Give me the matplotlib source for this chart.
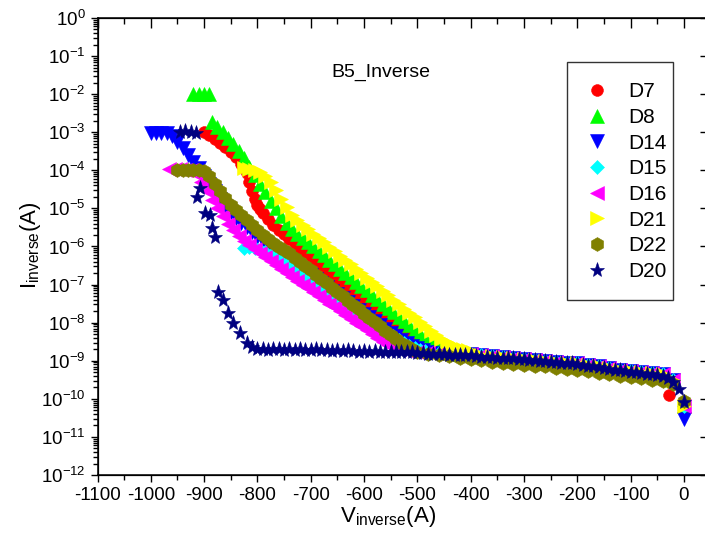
import numpy as np
import matplotlib
matplotlib.use("Agg")
import matplotlib.pyplot as plt
from matplotlib.patches import Rectangle
from matplotlib.ticker import LogLocator, MultipleLocator, NullFormatter, NullLocator

plt.rcParams['font.family'] = ['Liberation Sans', 'DejaVu Sans']
plt.rcParams['mathtext.fontset'] = 'custom'
plt.rcParams['mathtext.rm'] = 'Liberation Sans'
plt.rcParams['mathtext.it'] = 'Liberation Sans:italic'
plt.rcParams['mathtext.bf'] = 'Liberation Sans:bold'
plt.rcParams['axes.unicode_minus'] = False

# ---- data (V in volts, log10 of I) ----

# D7 red circles
v_d7 = np.arange(-900, -465, 10)
lg_d7 = [-3.00, -3.08, -3.17, -3.27, -3.40, -3.52, -3.66, -3.83, -4.08, -4.55,
         -4.90, -5.12, -5.28, -5.43, -5.56, -5.68, -5.80, -5.92, -6.04, -6.15,
         -6.26, -6.38, -6.49, -6.60, -6.72, -6.83, -6.94, -7.05, -7.16, -7.28,
         -7.39, -7.50, -7.61, -7.72, -7.84, -7.95, -8.06, -8.17, -8.28, -8.40,
         -8.50, -8.60, -8.68, -8.75]
v_d7_knee = [-825, -815, -805, -795]
lg_d7_knee = [-3.95, -4.30, -4.75, -5.02]
d7_dip = (-28, -9.9)

# D8 green triangles (flat part at 1e-2, then the decay)
v_d8_top = [-920, -910, -900, -890]
lg_d8_top = [-2.0, -2.0, -2.0, -2.0]
v_d8 = np.arange(-885, -430, 10)
lg_d8 = [-2.72, -2.85, -3.00, -3.14, -3.30, -3.48, -3.67, -3.90, -4.12, -4.35,
         -4.58, -4.80, -5.00, -5.20, -5.38, -5.54, -5.66, -5.77, -5.89, -6.00,
         -6.12, -6.23, -6.35, -6.46, -6.58, -6.69, -6.81, -6.92, -7.04, -7.15,
         -7.27, -7.38, -7.50, -7.61, -7.73, -7.84, -7.96, -8.07, -8.18, -8.29,
         -8.39, -8.48, -8.56, -8.63, -8.68, -8.72]

# D14 blue down triangles
v_d14 = np.arange(-1000, -485, 10)
lg_d14 = [-3.02, -3.02, -3.02, -3.03, -3.10, -3.25, -3.42, -3.60, -3.78, -3.95,
          -4.15, -4.35, -4.55, -4.75, -4.93, -5.10, -5.25, -5.38, -5.50, -5.62,
          -5.74, -5.85, -5.96, -6.06, -6.16, -6.26, -6.36, -6.46, -6.56, -6.66,
          -6.76, -6.86, -6.96, -7.06, -7.16, -7.26, -7.36, -7.46, -7.56, -7.66,
          -7.76, -7.86, -7.96, -8.06, -8.16, -8.26, -8.36, -8.45, -8.54, -8.61,
          -8.67, -8.72]
d14_end = -10.54

# D15 cyan diamonds
v_d15 = np.arange(-825, -480, 10)
lg_d15 = [-6.05, -6.02, -6.03, -6.08, -6.15, -6.22, -6.30, -6.38, -6.46, -6.55,
          -6.64, -6.74, -6.83, -6.93, -7.02, -7.12, -7.21, -7.31, -7.40, -7.50,
          -7.59, -7.69, -7.78, -7.88, -7.97, -8.07, -8.16, -8.26, -8.35, -8.45,
          -8.53, -8.60, -8.66, -8.71, -8.74]

# D16 magenta left triangles
v_d16 = np.arange(-965, -530, 10)
lg_d16 = [-3.97, -3.97, -3.97, -3.98, -4.00, -4.10, -4.30, -4.55, -4.78, -5.00,
          -5.20, -5.40, -5.57, -5.72, -5.85, -5.96, -6.07, -6.17, -6.28, -6.38,
          -6.49, -6.59, -6.70, -6.80, -6.90, -7.00, -7.10, -7.20, -7.30, -7.40,
          -7.50, -7.60, -7.70, -7.80, -7.90, -8.00, -8.10, -8.20, -8.30, -8.40,
          -8.50, -8.58, -8.65, -8.70]

# D21 yellow right triangles
v_d21 = np.arange(-825, -390, 10)
lg_d21 = [-3.95, -3.97, -4.00, -4.05, -4.15, -4.30, -4.52, -4.75, -4.97, -5.17,
          -5.31, -5.43, -5.54, -5.66, -5.78, -5.89, -6.01, -6.12, -6.24, -6.36,
          -6.47, -6.59, -6.70, -6.82, -6.94, -7.05, -7.17, -7.28, -7.40, -7.52,
          -7.63, -7.75, -7.86, -7.98, -8.10, -8.21, -8.32, -8.42, -8.51, -8.58,
          -8.64, -8.69, -8.73, -8.77]

# D22 olive hexagons
v_d22 = np.arange(-950, -495, 10)
lg_d22 = [-3.99, -3.99, -3.99, -4.00, -4.00, -4.02, -4.15, -4.35, -4.55, -4.73,
          -4.90, -5.04, -5.18, -5.31, -5.44, -5.57, -5.69, -5.80, -5.91, -6.01,
          -6.10, -6.18, -6.29, -6.40, -6.52, -6.63, -6.74, -6.86, -6.97, -7.08,
          -7.19, -7.31, -7.42, -7.53, -7.64, -7.76, -7.87, -7.98, -8.10, -8.21,
          -8.32, -8.43, -8.53, -8.62, -8.70, -8.76]

# D20 navy stars: scattered head, then the long flat floor
v_d20_head = [-945, -935, -925, -915, -914, -908, -899, -889, -886, -880,
              -874, -865, -856, -846, -833, -820, -810]
lg_d20_head = [-3.00, -2.97, -3.00, -3.02, -4.70, -4.46, -5.12, -5.17, -5.51, -5.75,
               -7.20, -7.41, -7.75, -8.01, -8.27, -8.53, -8.65]
v_d20 = np.arange(-800, 1, 10)
lg_d20 = [-8.70, -8.68, -8.72, -8.70, -8.68, -8.72, -8.70, -8.72, -8.70, -8.72,
          -8.72, -8.70, -8.73, -8.72, -8.74, -8.72, -8.74, -8.73, -8.74, -8.76,
          -8.74, -8.76, -8.74, -8.77, -8.76, -8.77, -8.76, -8.77, -8.78, -8.77,
          -8.80, -8.80, -8.81, -8.81, -8.82, -8.82, -8.84, -8.84, -8.85, -8.85,
          -8.85, -8.87, -8.89, -8.89, -8.90, -8.92, -8.92, -8.94, -8.94, -8.96,
          -8.96, -8.98, -8.98, -9.00, -9.01, -9.02, -9.03, -9.05, -9.06, -9.07,
          -9.09, -9.11, -9.13, -9.15, -9.17, -9.19, -9.21, -9.23, -9.25, -9.27,
          -9.29, -9.30, -9.32, -9.34, -9.35, -9.37, -9.40, -9.46, -9.55, -9.75,
          -10.08]

# floor readings of the other devices (coarser, mostly hidden under D20)
v_tail = np.arange(-520, 1, 20)
lg_tail_hi = [-8.74, -8.76, -8.78, -8.79, -8.81, -8.82, -8.83, -8.85, -8.88, -8.90,
              -8.93, -8.95, -8.97, -9.00, -9.03, -9.05, -9.07, -9.11, -9.15, -9.19,
              -9.23, -9.26, -9.30, -9.33, -9.36, -9.50, -10.20]
lg_tail_lo = [-8.78, -8.80, -8.82, -8.85, -8.88, -8.92, -8.95, -8.98, -9.02, -9.05,
              -9.08, -9.10, -9.13, -9.15, -9.18, -9.21, -9.24, -9.28, -9.32, -9.36,
              -9.40, -9.43, -9.46, -9.50, -9.52, -9.62, -10.05]


def with_tail(v, lg, tail):
    keep = v_tail > v[-1] + 5
    return (np.concatenate([v, v_tail[keep]]),
            np.concatenate([lg, np.array(tail)[keep]]))


x7, y7 = with_tail(v_d7, lg_d7, lg_tail_hi)
x7 = np.concatenate([v_d7_knee, x7, [d7_dip[0]]])
y7 = np.concatenate([lg_d7_knee, y7, [d7_dip[1]]])
x8, y8 = with_tail(v_d8, lg_d8, lg_tail_hi)
x8 = np.concatenate([v_d8_top, x8]); y8 = np.concatenate([lg_d8_top, y8])
x14, y14 = with_tail(v_d14, lg_d14, lg_tail_hi)
y14[-1] = d14_end
x15, y15 = with_tail(v_d15, lg_d15, lg_tail_hi)
x16, y16 = with_tail(v_d16, lg_d16, lg_tail_hi)
x21, y21 = with_tail(v_d21, lg_d21, lg_tail_hi)
x22, y22 = with_tail(v_d22, lg_d22, lg_tail_lo)
x20 = np.concatenate([v_d20_head, v_d20])
y20 = np.concatenate([lg_d20_head, lg_d20])

series = [
    ("D7", x7, y7, 'o', '#FF0000', 8.5),
    ("D8", x8, y8, '^', '#00FF00', 9.5),
    ("D14", x14, y14, 'v', '#0000FF', 9.5),
    ("D15", x15, y15, 'D', '#00FFFF', 7.5),
    ("D16", x16, y16, '<', '#FF00FF', 9.5),
    ("D21", x21, y21, '>', '#FFFF00', 9.5),
    ("D22", x22, y22, 'h', '#808000', 10),
    ("D20", x20, y20, '*', '#000080', 11),
]

fig = plt.figure(figsize=(7.05, 5.48), dpi=100)
ax = fig.add_axes([97.5 / 705, 1 - 475 / 548, (705.3 - 97.5) / 705, 457 / 548])

for name, x, lg, mk, col, ms in series:
    ax.plot(x, 10.0 ** np.asarray(lg), linestyle='none', marker=mk, color=col,
            markersize=ms, markeredgewidth=0.4, markeredgecolor=col, label=name)

ax.set_yscale('log')
ax.set_xlim(-1100, 40)
ax.set_ylim(1e-12, 1)
ax.xaxis.set_major_locator(MultipleLocator(100))
ax.xaxis.set_minor_locator(MultipleLocator(50))
ax.yaxis.set_major_locator(LogLocator(base=10, numticks=30))
ax.yaxis.set_minor_locator(LogLocator(base=10, subs=np.arange(2, 10), numticks=30))
ax.yaxis.set_minor_formatter(NullFormatter())
ax.tick_params(axis='both', which='major', direction='out', length=5, width=1,
               labelsize=13.5, top=False, right=False)
ax.tick_params(axis='both', which='minor', direction='out', length=3.5, width=1,
               top=False, right=False)
ax.spines['right'].set_visible(False)
for s in ['left', 'bottom', 'top']:
    ax.spines[s].set_linewidth(1.1)

# mirrored ticks pointing inward on top and right
axt = ax.twiny()
axt.set_xlim(ax.get_xlim())
axt.xaxis.set_major_locator(MultipleLocator(100))
axt.xaxis.set_minor_locator(MultipleLocator(50))
axt.tick_params(axis='x', which='major', direction='in', length=7, width=1, labeltop=False)
axt.tick_params(axis='x', which='minor', direction='in', length=4, width=1)
axr = ax.twinx()
axr.set_yscale('log')
axr.set_ylim(ax.get_ylim())
axr.yaxis.set_major_locator(LogLocator(base=10, numticks=30))
axr.yaxis.set_minor_locator(NullLocator())
axr.tick_params(axis='y', which='major', direction='in', length=3.5, width=1, labelright=False)
for a in (axt, axr):
    a.spines['right'].set_visible(False)

ax.text(0.467, 0.882, 'B5_Inverse', transform=ax.transAxes, ha='center', va='center',
        fontsize=14)

fig.text(0.043, 0.552, r'I$_{\mathregular{inverse}}$(A)', rotation=90, ha='center',
         va='center', fontsize=16)
fig.text(0.551, 0.057, r'V$_{\mathregular{inverse}}$(A)', ha='center', va='center',
         fontsize=16)

# legend entries without frame, plus a separate box like the original
ax.legend(loc='upper left', bbox_to_anchor=(0.8047, 0.859), numpoints=1,
          fontsize=15, frameon=False, handlelength=1.0, handletextpad=0.99,
          borderpad=0, labelspacing=0.32, borderaxespad=0)
ax.add_patch(Rectangle((0.7725, 0.3829), 0.1744, 0.5208, transform=ax.transAxes,
                       fill=False, edgecolor='#333333', linewidth=1.0,
                       clip_on=False, zorder=10))

fig.savefig('out.png', dpi=100)
